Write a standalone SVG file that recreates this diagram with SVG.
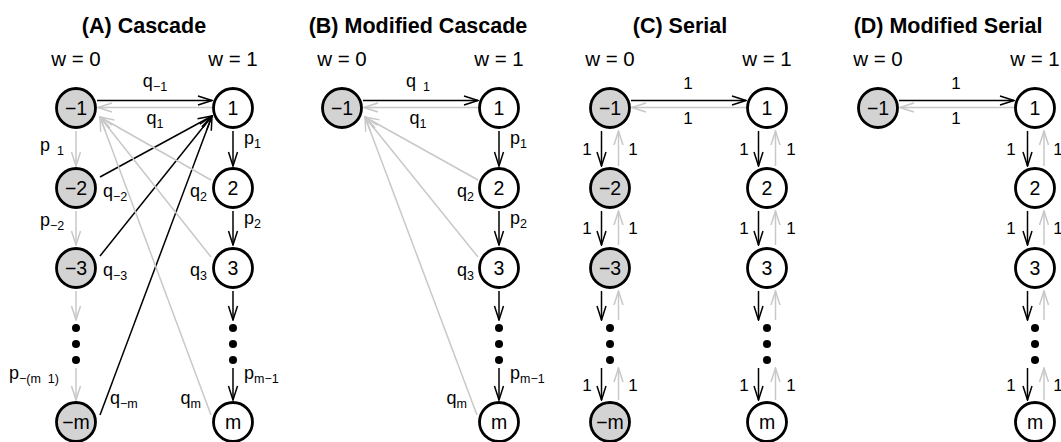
<svg xmlns="http://www.w3.org/2000/svg" width="1061" height="442" viewBox="0 0 1061 442">
<style>
text{font-family:"Liberation Sans",Arial,sans-serif;fill:#000}
.title{font-size:21.5px;font-weight:bold;text-anchor:middle}
.w{font-size:20.5px;text-anchor:middle}
.nl{font-size:19.5px;text-anchor:middle}
.lb{font-size:18px}
.one{font-size:17px;text-anchor:middle}
.sub{font-size:12.5px}
.mid{text-anchor:middle}
.end{text-anchor:end}
.node{stroke:#000;stroke-width:2.8}
.g0{fill:#d3d3d3}
.g1{fill:#fff}
.blk{stroke:#000;stroke-width:1.5;fill:none;marker-end:url(#ab)}
.gry{stroke:#c8c8c8;stroke-width:1.5;fill:none;marker-end:url(#ag)}
.dot{fill:#000}
</style>
<defs>
<marker id="ab" markerUnits="userSpaceOnUse" markerWidth="16" markerHeight="12" refX="14" refY="5" orient="auto" viewBox="-1 0 16 10"><path d="M0,0.5 L14,5 L0,9.5" fill="none" stroke="#000" stroke-width="1.5"/></marker>
<marker id="ag" markerUnits="userSpaceOnUse" markerWidth="16" markerHeight="12" refX="14" refY="5" orient="auto" viewBox="-1 0 16 10"><path d="M0,0.5 L14,5 L0,9.5" fill="none" stroke="#c8c8c8" stroke-width="1.5"/></marker>
</defs>
<rect width="1061" height="442" fill="#fff"/>

<g id="titles">
<text class="title" x="144" y="33">(A) Cascade</text>
<text class="title" x="418" y="33">(B) Modified Cascade</text>
<text class="title" x="680" y="33">(C) Serial</text>
<text class="title" x="948" y="33">(D) Modified Serial</text>
<text class="w" x="76" y="66">w = 0</text>
<text class="w" x="233" y="66">w = 1</text>
<text class="w" x="342" y="66">w = 0</text>
<text class="w" x="499" y="66">w = 1</text>
<text class="w" x="610" y="66">w = 0</text>
<text class="w" x="767" y="66">w = 1</text>
<text class="w" x="878" y="66">w = 0</text>
<text class="w" x="1035" y="66">w = 1</text>
</g>

<g id="connectors">
<!-- Panel A -->
<line class="blk" x1="97" y1="100.5" x2="212" y2="100.5"/>
<line class="gry" x1="212" y1="107.5" x2="98" y2="107.5"/>
<line class="gry" x1="76" y1="131" x2="76" y2="166"/>
<line class="gry" x1="76" y1="211" x2="76" y2="245"/>
<line class="gry" x1="76" y1="291" x2="76" y2="320"/>
<line class="gry" x1="76" y1="368" x2="76" y2="400"/>
<line class="blk" x1="233" y1="131" x2="233" y2="166"/>
<line class="blk" x1="233" y1="211" x2="233" y2="245"/>
<line class="blk" x1="233" y1="291" x2="233" y2="320"/>
<line class="blk" x1="233" y1="368" x2="233" y2="400"/>
<line class="blk" x1="100" y1="177" x2="212" y2="116"/>
<line class="blk" x1="100" y1="256" x2="212" y2="116"/>
<line class="blk" x1="100" y1="415" x2="212" y2="116"/>
<line class="gry" x1="211" y1="180" x2="100" y2="117"/>
<line class="gry" x1="211" y1="257" x2="100" y2="117"/>
<line class="gry" x1="211" y1="415" x2="100" y2="117"/>
<!-- Panel B -->
<line class="blk" x1="363" y1="100.5" x2="478" y2="100.5"/>
<line class="gry" x1="478" y1="107.5" x2="364" y2="107.5"/>
<line class="blk" x1="499" y1="131" x2="499" y2="166"/>
<line class="blk" x1="499" y1="211" x2="499" y2="245"/>
<line class="blk" x1="499" y1="291" x2="499" y2="320"/>
<line class="blk" x1="499" y1="368" x2="499" y2="400"/>
<line class="gry" x1="478" y1="180" x2="365" y2="117"/>
<line class="gry" x1="478" y1="257" x2="365" y2="117"/>
<line class="gry" x1="477" y1="415" x2="365" y2="117"/>
<!-- Panel C -->
<line class="blk" x1="631" y1="100.5" x2="746" y2="100.5"/>
<line class="gry" x1="746" y1="107.5" x2="632" y2="107.5"/>
<line class="blk" x1="601.5" y1="131" x2="601.5" y2="166"/>
<line class="gry" x1="618.5" y1="166" x2="618.5" y2="131"/>
<line class="blk" x1="601.5" y1="211" x2="601.5" y2="245"/>
<line class="gry" x1="618.5" y1="245" x2="618.5" y2="211"/>
<line class="blk" x1="601.5" y1="291" x2="601.5" y2="320"/>
<line class="gry" x1="618.5" y1="320" x2="618.5" y2="291"/>
<line class="blk" x1="601.5" y1="368" x2="601.5" y2="400"/>
<line class="gry" x1="618.5" y1="400" x2="618.5" y2="368"/>
<line class="blk" x1="758.5" y1="131" x2="758.5" y2="166"/>
<line class="gry" x1="775.5" y1="166" x2="775.5" y2="131"/>
<line class="blk" x1="758.5" y1="211" x2="758.5" y2="245"/>
<line class="gry" x1="775.5" y1="245" x2="775.5" y2="211"/>
<line class="blk" x1="758.5" y1="291" x2="758.5" y2="320"/>
<line class="gry" x1="775.5" y1="320" x2="775.5" y2="291"/>
<line class="blk" x1="758.5" y1="368" x2="758.5" y2="400"/>
<line class="gry" x1="775.5" y1="400" x2="775.5" y2="368"/>
<!-- Panel D -->
<line class="blk" x1="899" y1="100.5" x2="1014" y2="100.5"/>
<line class="gry" x1="1014" y1="107.5" x2="900" y2="107.5"/>
<line class="blk" x1="1027.5" y1="131" x2="1027.5" y2="166"/>
<line class="gry" x1="1044" y1="166" x2="1044" y2="131"/>
<line class="blk" x1="1027.5" y1="211" x2="1027.5" y2="245"/>
<line class="gry" x1="1044" y1="245" x2="1044" y2="211"/>
<line class="blk" x1="1027.5" y1="291" x2="1027.5" y2="320"/>
<line class="gry" x1="1044" y1="320" x2="1044" y2="291"/>
<line class="blk" x1="1027.5" y1="368" x2="1027.5" y2="400"/>
<line class="gry" x1="1044" y1="400" x2="1044" y2="368"/>
</g>

<g id="edge-labels">
<!-- A -->
<text class="lb mid" x="155" y="87">q<tspan class="sub" dy="4">−1</tspan></text>
<text class="lb mid" x="155" y="124">q<tspan class="sub" dy="4">1</tspan></text>
<text class="lb" x="40" y="151" xml:space="preserve">p<tspan class="sub" dy="4">  1</tspan></text>
<text class="lb" x="244" y="144">p<tspan class="sub" dy="4">1</tspan></text>
<text class="lb" x="103" y="197">q<tspan class="sub" dy="4">−2</tspan></text>
<text class="lb end" x="207" y="197">q<tspan class="sub" dy="4">2</tspan></text>
<text class="lb" x="40" y="226">p<tspan class="sub" dy="4">−2</tspan></text>
<text class="lb" x="244" y="224">p<tspan class="sub" dy="4">2</tspan></text>
<text class="lb" x="103" y="276">q<tspan class="sub" dy="4">−3</tspan></text>
<text class="lb end" x="207" y="276">q<tspan class="sub" dy="4">3</tspan></text>
<text class="lb" x="9" y="379" xml:space="preserve">p<tspan class="sub" dy="4">−(m  1)</tspan></text>
<text class="lb" x="244" y="379">p<tspan class="sub" dy="4">m−1</tspan></text>
<text class="lb" x="110" y="404">q<tspan class="sub" dy="4">−m</tspan></text>
<text class="lb end" x="201" y="404">q<tspan class="sub" dy="4">m</tspan></text>
<!-- B -->
<text class="lb mid" x="418" y="87" xml:space="preserve">q<tspan class="sub" dy="4">  1</tspan></text>
<text class="lb mid" x="418" y="124">q<tspan class="sub" dy="4">1</tspan></text>
<text class="lb" x="510" y="144">p<tspan class="sub" dy="4">1</tspan></text>
<text class="lb end" x="474" y="197">q<tspan class="sub" dy="4">2</tspan></text>
<text class="lb" x="510" y="224">p<tspan class="sub" dy="4">2</tspan></text>
<text class="lb end" x="474" y="276">q<tspan class="sub" dy="4">3</tspan></text>
<text class="lb" x="510" y="379">p<tspan class="sub" dy="4">m−1</tspan></text>
<text class="lb end" x="467" y="404">q<tspan class="sub" dy="4">m</tspan></text>
<!-- C -->
<text class="one" x="688" y="89">1</text>
<text class="one" x="688" y="124">1</text>
<text class="one" x="587" y="155">1</text><text class="one" x="633" y="155">1</text>
<text class="one" x="587" y="234">1</text><text class="one" x="633" y="234">1</text>
<text class="one" x="587" y="391">1</text><text class="one" x="633" y="391">1</text>
<text class="one" x="744" y="155">1</text><text class="one" x="791" y="155">1</text>
<text class="one" x="744" y="234">1</text><text class="one" x="791" y="234">1</text>
<text class="one" x="744" y="391">1</text><text class="one" x="791" y="391">1</text>
<!-- D -->
<text class="one" x="956" y="89">1</text>
<text class="one" x="956" y="124">1</text>
<text class="one" x="1011" y="155">1</text><text class="one" x="1058" y="155">1</text>
<text class="one" x="1011" y="234">1</text><text class="one" x="1058" y="234">1</text>
<text class="one" x="1011" y="391">1</text><text class="one" x="1058" y="391">1</text>
</g>

<!-- Panel A nodes -->
<g id="A-n-1"><circle class="node g0" cx="76" cy="108" r="19.5"/><text class="nl" x="76" y="115">−1</text></g>
<g id="A-n-2"><circle class="node g0" cx="76" cy="188" r="19.5"/><text class="nl" x="76" y="195">−2</text></g>
<g id="A-n-3"><circle class="node g0" cx="76" cy="268" r="19.5"/><text class="nl" x="76" y="275">−3</text></g>
<g id="A-n-m"><circle class="node g0" cx="76" cy="422" r="19.5"/><text class="nl" x="76" y="429">−m</text></g>
<g id="A-dots-left"><circle class="dot" cx="76" cy="328" r="4"/><circle class="dot" cx="76" cy="344" r="4"/><circle class="dot" cx="76" cy="360" r="4"/></g>
<g id="A-n1"><circle class="node g1" cx="233" cy="108" r="19.5"/><text class="nl" x="233" y="115">1</text></g>
<g id="A-n2"><circle class="node g1" cx="233" cy="188" r="19.5"/><text class="nl" x="233" y="195">2</text></g>
<g id="A-n3"><circle class="node g1" cx="233" cy="268" r="19.5"/><text class="nl" x="233" y="275">3</text></g>
<g id="A-nm"><circle class="node g1" cx="233" cy="422" r="19.5"/><text class="nl" x="233" y="429">m</text></g>
<g id="A-dots-right"><circle class="dot" cx="233" cy="328" r="4"/><circle class="dot" cx="233" cy="344" r="4"/><circle class="dot" cx="233" cy="360" r="4"/></g>

<!-- Panel B nodes -->
<g id="B-n-1"><circle class="node g0" cx="342" cy="108" r="19.5"/><text class="nl" x="342" y="115">−1</text></g>
<g id="B-n1"><circle class="node g1" cx="499" cy="108" r="19.5"/><text class="nl" x="499" y="115">1</text></g>
<g id="B-n2"><circle class="node g1" cx="499" cy="188" r="19.5"/><text class="nl" x="499" y="195">2</text></g>
<g id="B-n3"><circle class="node g1" cx="499" cy="268" r="19.5"/><text class="nl" x="499" y="275">3</text></g>
<g id="B-nm"><circle class="node g1" cx="499" cy="422" r="19.5"/><text class="nl" x="499" y="429">m</text></g>
<g id="B-dots"><circle class="dot" cx="499" cy="328" r="4"/><circle class="dot" cx="499" cy="344" r="4"/><circle class="dot" cx="499" cy="360" r="4"/></g>

<!-- Panel C nodes -->
<g id="C-n-1"><circle class="node g0" cx="610" cy="108" r="19.5"/><text class="nl" x="610" y="115">−1</text></g>
<g id="C-n-2"><circle class="node g0" cx="610" cy="188" r="19.5"/><text class="nl" x="610" y="195">−2</text></g>
<g id="C-n-3"><circle class="node g0" cx="610" cy="268" r="19.5"/><text class="nl" x="610" y="275">−3</text></g>
<g id="C-n-m"><circle class="node g0" cx="610" cy="422" r="19.5"/><text class="nl" x="610" y="429">−m</text></g>
<g id="C-dots-left"><circle class="dot" cx="610" cy="328" r="4"/><circle class="dot" cx="610" cy="344" r="4"/><circle class="dot" cx="610" cy="360" r="4"/></g>
<g id="C-n1"><circle class="node g1" cx="767" cy="108" r="19.5"/><text class="nl" x="767" y="115">1</text></g>
<g id="C-n2"><circle class="node g1" cx="767" cy="188" r="19.5"/><text class="nl" x="767" y="195">2</text></g>
<g id="C-n3"><circle class="node g1" cx="767" cy="268" r="19.5"/><text class="nl" x="767" y="275">3</text></g>
<g id="C-nm"><circle class="node g1" cx="767" cy="422" r="19.5"/><text class="nl" x="767" y="429">m</text></g>
<g id="C-dots-right"><circle class="dot" cx="767" cy="328" r="4"/><circle class="dot" cx="767" cy="344" r="4"/><circle class="dot" cx="767" cy="360" r="4"/></g>

<!-- Panel D nodes -->
<g id="D-n-1"><circle class="node g0" cx="878" cy="108" r="19.5"/><text class="nl" x="878" y="115">−1</text></g>
<g id="D-n1"><circle class="node g1" cx="1035" cy="108" r="19.5"/><text class="nl" x="1035" y="115">1</text></g>
<g id="D-n2"><circle class="node g1" cx="1035" cy="188" r="19.5"/><text class="nl" x="1035" y="195">2</text></g>
<g id="D-n3"><circle class="node g1" cx="1035" cy="268" r="19.5"/><text class="nl" x="1035" y="275">3</text></g>
<g id="D-nm"><circle class="node g1" cx="1035" cy="422" r="19.5"/><text class="nl" x="1035" y="429">m</text></g>
<g id="D-dots"><circle class="dot" cx="1035" cy="328" r="4"/><circle class="dot" cx="1035" cy="344" r="4"/><circle class="dot" cx="1035" cy="360" r="4"/></g>
</svg>
